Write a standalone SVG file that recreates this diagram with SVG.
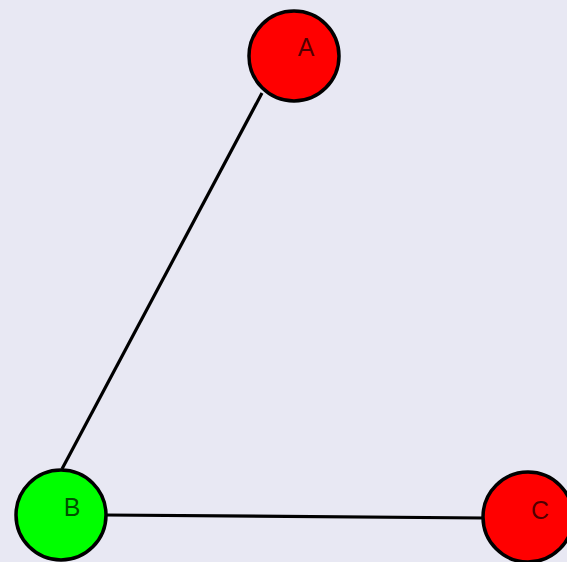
<svg xmlns="http://www.w3.org/2000/svg" width="567" height="562" viewBox="0 0 567 562">
<style>
.node{stroke:#000;stroke-width:3.5}
.lbl{font-family:"Liberation Sans",Arial,sans-serif;font-size:25px;fill:#000;fill-opacity:0.7;text-anchor:middle}
.edge{stroke:#000;stroke-width:3.2;fill:none}
</style>
<rect width="567" height="562" fill="#e8e8f3"/>
<g id="connectors">
<line class="edge" x1="262" y1="93" x2="62" y2="469"/>
<line class="edge" x1="105" y1="515" x2="484" y2="518"/>
</g>
<g id="node-A">
<circle class="node" cx="294" cy="56" r="45" fill="#ff0000"/>
<text class="lbl" x="306" y="56">A</text>
</g>
<g id="node-B">
<circle class="node" cx="61" cy="515" r="45" fill="#00ff00"/>
<text class="lbl" x="72" y="516">B</text>
</g>
<g id="node-C">
<circle class="node" cx="528" cy="517" r="45" fill="#ff0000"/>
<text class="lbl" x="540" y="519">C</text>
</g>
</svg>
